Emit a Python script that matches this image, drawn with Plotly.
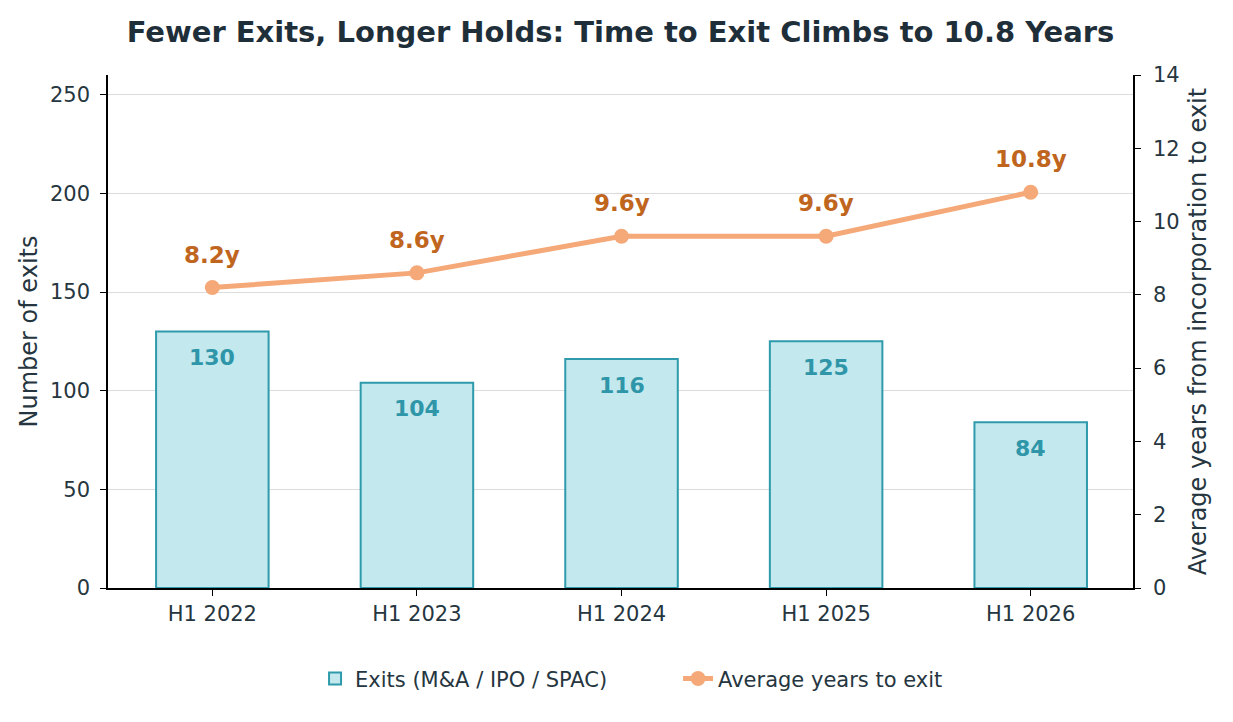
import plotly.graph_objects as go

periods = ["H1 2022", "H1 2023", "H1 2024", "H1 2025", "H1 2026"]
exits = [130, 104, 116, 125, 84]
avg_years = [8.2, 8.6, 9.6, 9.6, 10.8]
year_labels = ["8.2y", "8.6y", "9.6y", "9.6y", "10.8y"]

font = "DejaVu Sans"
ink = "#263640"

fig = go.Figure()
fig.add_trace(go.Bar(
    x=periods, y=exits, name="Exits (M&A / IPO / SPAC)",
    marker=dict(color="#c3e8ed", line=dict(color="#2e9aab", width=2)),
    width=0.55,
))
fig.add_trace(go.Scatter(
    x=periods, y=avg_years, name="Average years to exit", yaxis="y2",
    mode="lines+markers",
    line=dict(color="#f5a878", width=5),
    marker=dict(color="#f5a878", size=15),
))

# value labels
for p, v in zip(periods, exits):
    fig.add_annotation(x=p, y=v, yref="y", text=f"<b>{v}</b>", showarrow=False,
                       yshift=-26, font=dict(family=font, size=22, color="#2e96a8"))
for p, v, t in zip(periods, avg_years, year_labels):
    fig.add_annotation(x=p, y=v, yref="y2", text=f"<b>{t}</b>", showarrow=False,
                       yshift=33, font=dict(family=font, size=23, color="#c0651e"))

# page has an 8px body margin, so shrink the figure by that much
fig.update_layout(
    width=1225, height=714,
    paper_bgcolor="white", plot_bgcolor="white",
    margin=dict(l=100, r=100, t=67, b=134),
    font=dict(family=font, size=21, color=ink),
    title=dict(text="<b>Fewer Exits, Longer Holds: Time to Exit Climbs to 10.8 Years</b>",
               x=0.5, xanchor="center", y=0.967, yanchor="middle",
               font=dict(family=font, size=29, color="#1f2f3a")),
    showlegend=True,
    legend=dict(orientation="h", x=0.202, xanchor="left", y=-0.177, yanchor="middle",
                font=dict(size=21, color=ink), entrywidth=318, entrywidthmode="pixels"),
    xaxis=dict(type="category", range=[-0.51, 4.5], showline=True, linecolor="black",
               linewidth=1.5, ticks="outside", ticklen=6, tickcolor="black",
               showgrid=False, tickfont=dict(size=21, color=ink)),
    yaxis=dict(range=[0, 260], tickvals=[0, 50, 100, 150, 200, 250], showline=True,
               linecolor="black", linewidth=1.5, ticks="outside", ticklen=6,
               tickcolor="black", showgrid=True, gridcolor="#dcdcdc", gridwidth=1,
               zeroline=False, ticklabelstandoff=6,
               title=dict(text="Number of exits", font=dict(size=24, color=ink),
                          standoff=6),
               tickfont=dict(size=21, color=ink)),
    yaxis2=dict(range=[0, 14], tickvals=[0, 2, 4, 6, 8, 10, 12, 14], overlaying="y",
                side="right", showline=True, linecolor="black", linewidth=1.5,
                ticks="outside", ticklen=6, tickcolor="black", showgrid=False,
                zeroline=False, ticklabelstandoff=8,
                title=dict(text="Average years from incorporation to exit",
                           font=dict(size=24, color=ink), standoff=11),
                tickfont=dict(size=21, color=ink)),
)

fig.write_html("out.html")
